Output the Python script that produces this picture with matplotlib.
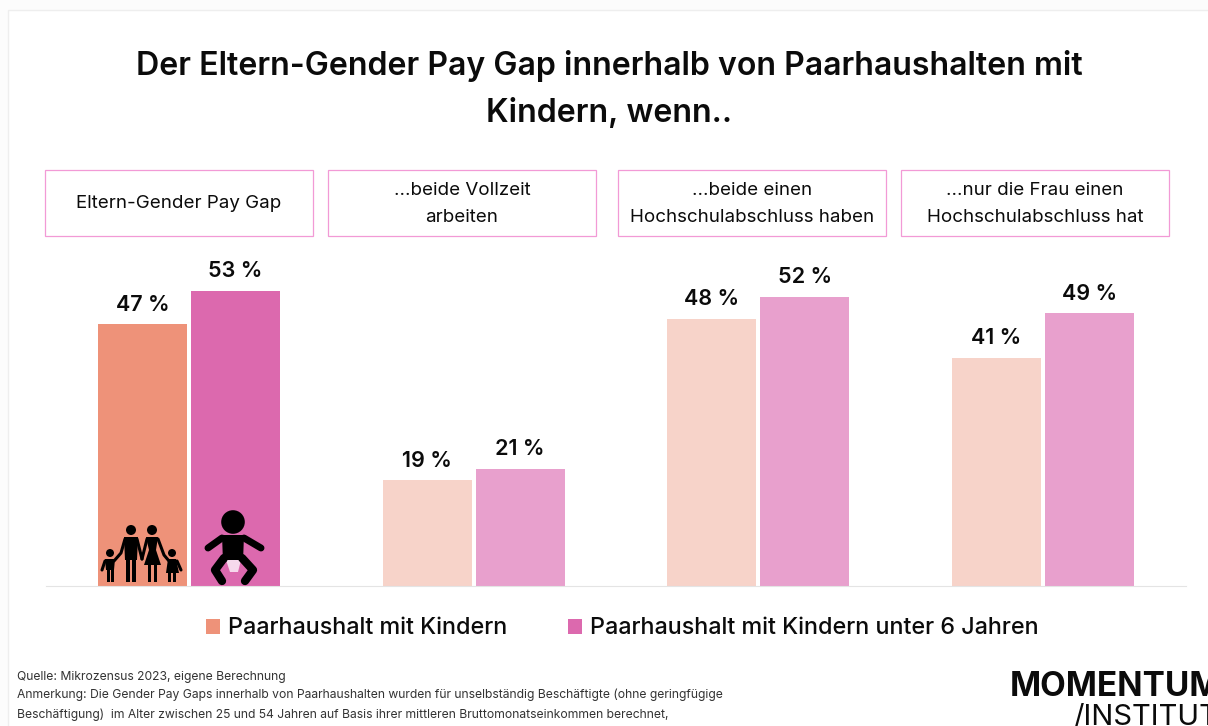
import matplotlib
matplotlib.use("Agg")
import matplotlib.pyplot as plt
from matplotlib.patches import Rectangle, Circle, Polygon
from matplotlib.lines import Line2D
import numpy as np

plt.rcParams['font.family'] = ['Inter', 'DejaVu Sans']

title_lines = ["Der Eltern-Gender Pay Gap innerhalb von Paarhaushalten mit", "Kindern, wenn.."]
panel_labels = ["Eltern-Gender Pay Gap", "...beide Vollzeit\narbeiten",
                "...beide einen\nHochschulabschluss haben", "...nur die Frau einen\nHochschulabschluss hat"]
series_names = ["Paarhaushalt mit Kindern", "Paarhaushalt mit Kindern unter 6 Jahren"]
with_kids = [47, 19, 48, 41]
under_six = [53, 21, 52, 49]
source_lines = ["Quelle: Mikrozensus 2023, eigene Berechnung",
                "Anmerkung: Die Gender Pay Gaps innerhalb von Paarhaushalten wurden für unselbständig Beschäftigte (ohne geringfügige",
                "Beschäftigung)  im Alter zwischen 25 und 54 Jahren auf Basis ihrer mittleren Bruttomonatseinkommen berechnet,"]

W, H = 1208, 726
fig = plt.figure(figsize=(W/100, H/100), dpi=100, facecolor='#fcfcfc')

bg = fig.add_axes([0, 0, 1, 1], zorder=0)
bg.set_xlim(0, W); bg.set_ylim(H, 0); bg.axis('off')
bg.add_patch(Rectangle((8, 10), W, H, fc='white', ec='#eeeeee', lw=1))

INK = '#0b0b0b'
for i, line in enumerate(title_lines):
    bg.text(609.5, [66, 114][i], line, ha='center', va='center', fontsize=23.1, color=INK, fontweight='semibold')

box_x = [45, 328, 618, 901]
for x, label in zip(box_x, panel_labels):
    bg.add_patch(Rectangle((x, 170), 268, 66, fc='white', ec='#f29ad6', lw=0.9))
    bg.text(x + 134, 204, label, ha='center', va='center', fontsize=13.5, color=INK, linespacing=1.72)

ax = fig.add_axes([46/W, 1-586/H, 1140/W, 334/H], zorder=1)
ax.patch.set_alpha(0)
x = np.arange(4)
bw, off = 0.3126, 0.1633
c1 = ['#EE9279', '#F7D3C9', '#F7D3C9', '#F7D3C9']
c2 = ['#DC69AE', '#E8A0CD', '#E8A0CD', '#E8A0CD']
ax.bar(x - off, with_kids, bw, color=c1)
ax.bar(x + off, under_six, bw, color=c2)
ax.set_xlim(-0.502, 3.502); ax.set_ylim(0, 60)
for s in ['top', 'left', 'right']:
    ax.spines[s].set_visible(False)
ax.spines['bottom'].set_color('#e4e4e4')
ax.set_xticks([]); ax.set_yticks([])
for xi, a, b in zip(x, with_kids, under_six):
    ax.annotate(f"{a} %", (xi - off, a), xytext=(0, 7), textcoords='offset points', ha='center', va='bottom', fontsize=15.5, color=INK, fontweight='semibold')
    ax.annotate(f"{b} %", (xi + off, b), xytext=(0, 7), textcoords='offset points', ha='center', va='bottom', fontsize=15.5, color=INK, fontweight='semibold')

ic = fig.add_axes([0, 0, 1, 1], zorder=2)
ic.set_xlim(0, W); ic.set_ylim(H, 0); ic.axis('off'); ic.patch.set_alpha(0)
k = 'black'

def poly(pts):
    ic.add_patch(Polygon(pts, fc=k, ec='none'))

def stroke(pts, lw):
    ic.add_line(Line2D(*zip(*pts), color=k, lw=lw, solid_capstyle='round', solid_joinstyle='round'))

# family icon
for cx, cy, r in [(131, 530, 5), (152, 530, 5), (110, 553, 4), (172, 553, 4)]:
    ic.add_patch(Circle((cx, cy), r, fc=k, ec='none'))
poly([(124, 537), (138, 537), (137, 560), (125, 560)])            # father
ic.add_patch(Rectangle((126, 558), 4.3, 24, fc=k, ec='none'))
ic.add_patch(Rectangle((132, 558), 4.3, 24, fc=k, ec='none'))
poly([(146, 537), (158, 537), (156, 550), (161, 565), (144, 565), (149, 550)])  # mother
ic.add_patch(Rectangle((147.5, 564), 3.5, 18, fc=k, ec='none'))
ic.add_patch(Rectangle((153.5, 564), 3.5, 18, fc=k, ec='none'))
poly([(105, 559), (115, 559), (114, 570), (106, 570)])            # boy
ic.add_patch(Rectangle((106.5, 569), 3, 13, fc=k, ec='none'))
ic.add_patch(Rectangle((110.8, 569), 3, 13, fc=k, ec='none'))
poly([(168, 559), (176, 559), (179, 573), (166, 573)])            # girl
ic.add_patch(Rectangle((168, 572), 2.6, 10, fc=k, ec='none'))
ic.add_patch(Rectangle((173, 572), 2.6, 10, fc=k, ec='none'))
stroke([(125, 539), (121, 553), (114, 561)], 2.2)
stroke([(137, 539), (142, 559)], 2.2)
stroke([(147, 539), (142, 559)], 2.2)
stroke([(158, 539), (164, 555), (169, 561)], 2.2)
stroke([(105, 561), (102, 570)], 2.2)
stroke([(177, 561), (181, 570)], 2.2)

# baby icon
ic.add_patch(Circle((233, 522), 11.8, fc=k, ec='none'))
poly([(222, 535), (244, 535), (243, 562), (223, 562)])
stroke([(222, 538), (208, 548)], 5)
stroke([(244, 538), (261, 548)], 5)
stroke([(224, 558), (215, 570), (222, 581)], 6)
stroke([(242, 558), (253, 570), (245, 581)], 6)
ic.add_patch(Polygon([(226, 560), (241, 560), (238, 572), (230, 572)], fc='#F6D9EC', ec='none'))

handles = [Rectangle((0, 0), 1, 1, fc=c1[0]), Rectangle((0, 0), 1, 1, fc=c2[0])]
fig.legend(handles, series_names, loc='center', bbox_to_anchor=(622/W, 1-628.5/H), ncol=2, frameon=False,
           handlelength=0.6, handleheight=0.6, handletextpad=0.34, columnspacing=2.6, labelcolor=INK,
           borderpad=0, borderaxespad=0, prop={'size': 16.8, 'weight': 'medium'})

for y, line in zip([677, 695, 715], source_lines):
    bg.text(17, y, line, ha='left', va='center', fontsize=8.74, color='#333333')
bg.text(1010, 687, "MOMENTUM", ha='left', va='center', fontsize=24, fontweight='bold', color=INK, clip_on=False)
bg.text(1073, 718, "/INSTITUT", ha='left', va='center', fontsize=21, color=INK, clip_on=False)

fig.savefig('out.png', dpi=100, facecolor=fig.get_facecolor())
